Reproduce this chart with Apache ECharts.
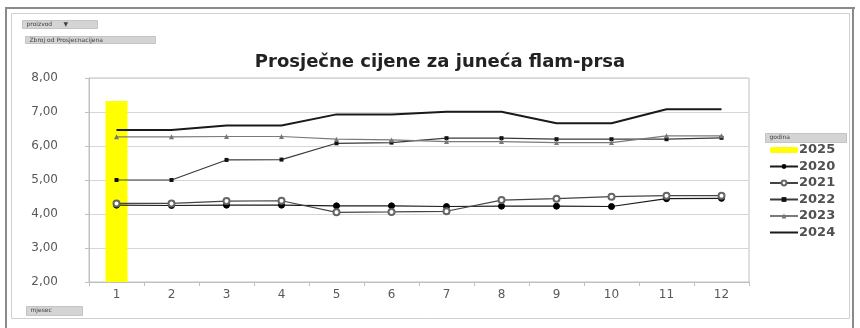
<!DOCTYPE html>
<html>
<head>
<meta charset="utf-8">
<script src="https://cdn.jsdelivr.net/npm/echarts@6/dist/echarts.min.js"></script>
<style>
html,body{margin:0;padding:0;background:#fff;}
#c{width:860px;height:328px;}
</style>
</head>
<body>
<div id="c"></div>
<script>
const months = ['1','2','3','4','5','6','7','8','9','10','11','12'];
const yTicks = [2, 3, 4, 5, 6, 7, 8];
const v2025 = [7.32, null, null, null, null, null, null, null, null, null, null, null];
const v2020 = [4.26, 4.25, 4.26, 4.26, 4.24, 4.24, 4.22, 4.23, 4.23, 4.22, 4.45, 4.46];
const v2021 = [4.31, 4.31, 4.38, 4.39, 4.05, 4.06, 4.08, 4.41, 4.45, 4.51, 4.54, 4.54];
const v2022 = [5.00, 5.00, 5.59, 5.60, 6.08, 6.10, 6.23, 6.23, 6.20, 6.20, 6.20, 6.24];
const v2023 = [6.27, 6.27, 6.28, 6.28, 6.20, 6.18, 6.13, 6.13, 6.10, 6.10, 6.30, 6.30];
const v2024 = [6.47, 6.47, 6.60, 6.60, 6.93, 6.93, 7.01, 7.01, 6.67, 6.67, 7.08, 7.08];

const chart = echarts.init(document.getElementById('c'), null, {renderer: 'canvas'});
const font = '"DejaVu Sans", sans-serif';
const lbl = '#595959';

function btn(x, y, w, h, text) {
  return {
    type: 'group', left: x, top: y, children: [
      {type: 'rect', shape: {x: 0, y: 0, width: w, height: h}, style: {fill: '#d4d4d4', stroke: '#c4c4c4'}},
      {type: 'text', left: 4, top: 1, style: {text: text, fill: '#404040', font: '6px ' + font}}
    ]
  };
}

chart.setOption({
  animation: false,
  backgroundColor: '#fff',
  title: {
    text: 'Prosječne cijene za juneća flam-prsa',
    left: 435, top: 48, textAlign: 'center',
    textStyle: {fontFamily: font, fontSize: 18, fontWeight: 'bold', color: '#222'}
  },
  grid: {left: 89, right: 111, top: 78, bottom: 46, show: true, borderColor: '#c0c0c0', borderWidth: 1},
  legend: {
    orient: 'vertical', left: 764, top: 138,
    itemWidth: 28, itemHeight: 6, itemGap: 2.5,
    data: ['2025', '2020', '2021', '2022', '2023', {name: '2024', itemStyle: {opacity: 0}}],
    textStyle: {fontFamily: font, fontSize: 13, fontWeight: 'bold', color: '#505050', padding: [0, 0, 0, -4], lineHeight: 14},
    selectedMode: false
  },
  xAxis: {
    type: 'category', data: months,
    axisLine: {lineStyle: {color: '#c0c0c0'}},
    axisTick: {show: true, length: 4, lineStyle: {color: '#c0c0c0'}},
    axisLabel: {fontFamily: font, fontSize: 12, color: lbl, margin: 7}
  },
  yAxis: {
    type: 'value', min: yTicks[0], max: yTicks[yTicks.length - 1], interval: 1,
    axisLine: {show: true, lineStyle: {color: '#c0c0c0'}},
    axisTick: {show: true, length: 4, lineStyle: {color: '#c0c0c0'}},
    splitLine: {lineStyle: {color: '#d6d6d6'}},
    axisLabel: {fontFamily: font, fontSize: 12, color: lbl, margin: 31,
      formatter: v => v.toFixed(2).replace('.', ',')}
  },
  series: [
    {name: '2025', type: 'bar', data: v2025, barWidth: 22, z: 1,
      itemStyle: {color: '#ffff00', borderWidth: 0}},
    {name: '2020', type: 'line', data: v2020, symbol: 'circle', symbolSize: 6, z: 3,
      lineStyle: {color: '#1a1a1a', width: 1.2}, itemStyle: {color: '#000', borderColor: '#000'}},
    {name: '2021', type: 'line', data: v2021, symbol: 'emptyCircle', symbolSize: 6, z: 3,
      lineStyle: {color: '#444', width: 1.2}, itemStyle: {color: '#666', borderColor: '#666', borderWidth: 1}},
    {name: '2022', type: 'line', data: v2022, symbol: 'rect', symbolSize: 4, z: 3,
      lineStyle: {color: '#3a3a3a', width: 1.2}, itemStyle: {color: '#111'}},
    {name: '2023', type: 'line', data: v2023, symbol: 'triangle', symbolSize: 5, z: 3,
      lineStyle: {color: '#7a7a7a', width: 1.2}, itemStyle: {color: '#777'}},
    {name: '2024', type: 'line', data: v2024, symbol: 'none', z: 4,
      lineStyle: {color: '#1a1a1a', width: 2}, itemStyle: {color: '#1a1a1a'}}
  ],
  graphic: [
    {type: 'line', shape: {x1: 5, y1: 8, x2: 855, y2: 8}, style: {stroke: '#8a8a8a', lineWidth: 2}},
    {type: 'line', shape: {x1: 6, y1: 8, x2: 6, y2: 328}, style: {stroke: '#8a8a8a', lineWidth: 2}},
    {type: 'line', shape: {x1: 853, y1: 8, x2: 853, y2: 328}, style: {stroke: '#8a8a8a', lineWidth: 2}},
    {type: 'rect', shape: {x: 11.5, y: 13.5, width: 838, height: 305}, style: {fill: 'none', stroke: '#d0d0d0', lineWidth: 1}},
    btn(22, 20, 75, 8, 'proizvod      ▼'),
    btn(25, 36, 130, 7, 'Zbroj od Prosjecnacijena'),
    btn(26, 306, 56, 9, 'mjesec'),
    btn(765, 133, 81, 9, 'godina')
  ]
});
</script>
</body>
</html>
